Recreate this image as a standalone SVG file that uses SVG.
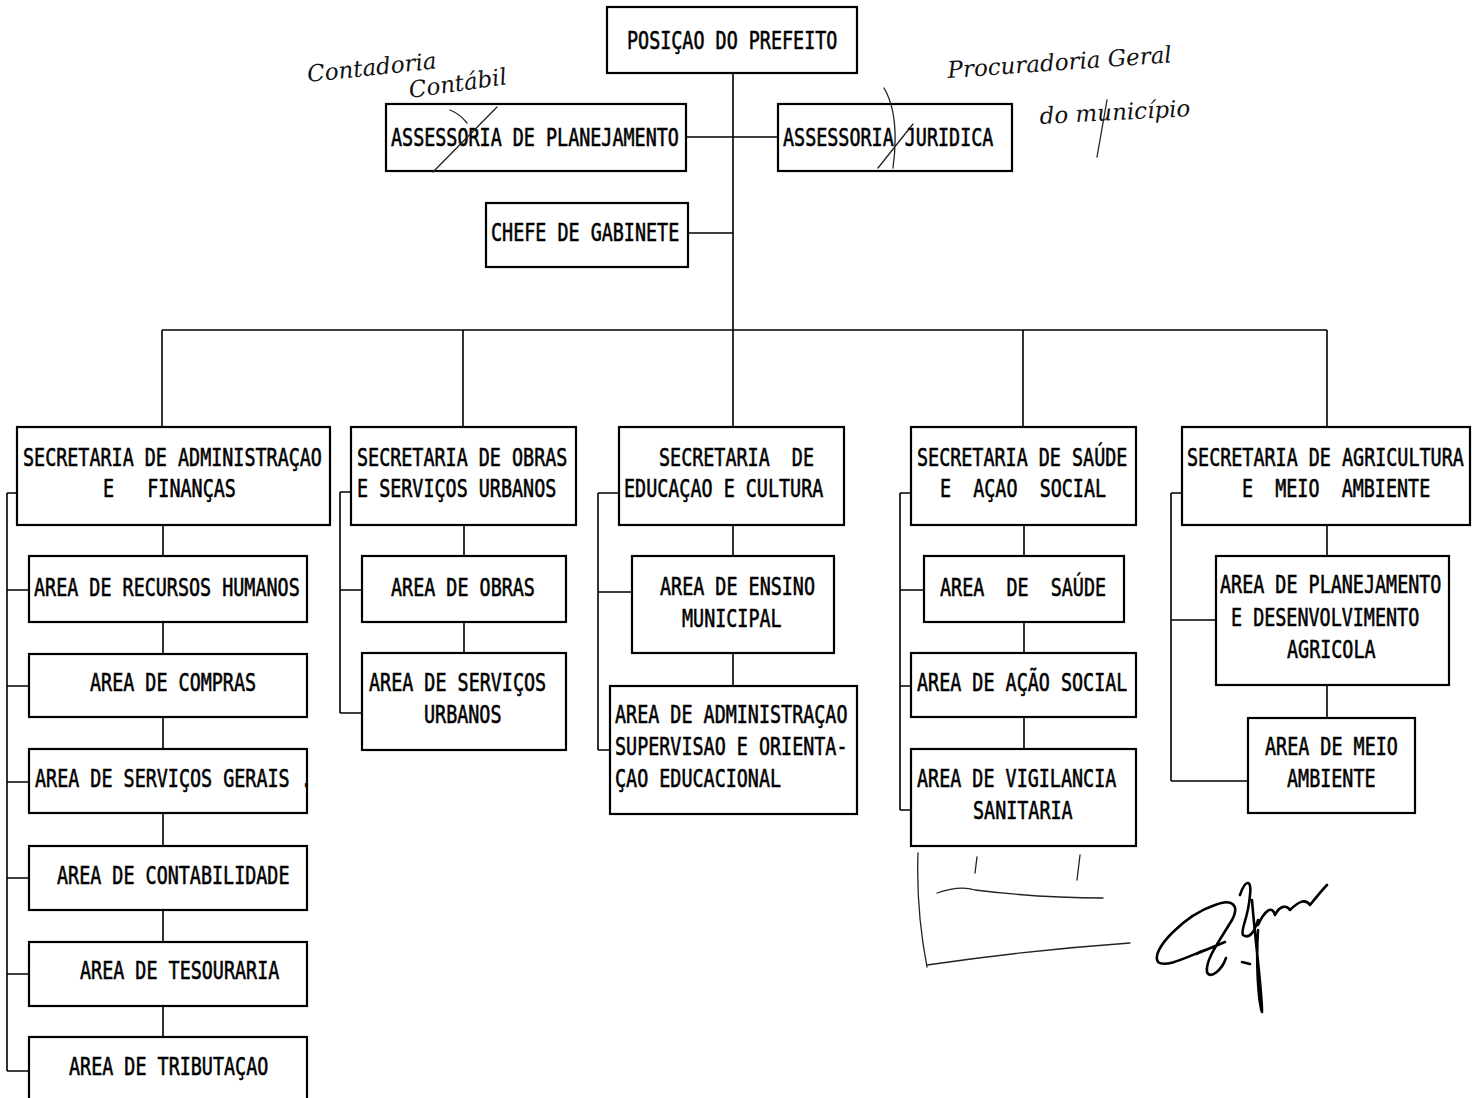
<svg xmlns="http://www.w3.org/2000/svg" width="1472" height="1098" viewBox="0 0 1472 1098">
<style>
.b{fill:#fff;stroke:#000;stroke-width:2.2}
.c{fill:none;stroke:#000;stroke-width:1.6}
.t{font-family:"DejaVu Sans Mono","Liberation Mono",monospace;font-size:18.4px;fill:#000;stroke:#000;stroke-width:0.45;white-space:pre}
.h{font-family:"DejaVu Serif","Liberation Serif",serif;font-style:italic;font-size:23px;fill:#111}
.p{fill:none;stroke:#222;stroke-width:1.3;stroke-linecap:round}
.s{fill:none;stroke:#000;stroke-width:2.6;stroke-linecap:round;stroke-linejoin:round}
</style>
<rect width="1472" height="1098" fill="#fff"/>
<g id="connectors">
<path class="c" d="M733 73V427M686 137H778M688 233H733M162 330H1327M162 330V427M463 330V427M1023 330V427M1327 330V427"/>
<path class="c" d="M163 525V556M163 622V654M163 717V749M163 813V846M163 910V942M163 1006V1037M7 493V1071M7 493H17M7 590H29M7 686H29M7 782H29M7 878H29M7 974H29M7 1071H29"/>
<path class="c" d="M464 525V556M464 622V653M340 492V713M340 492H351M340 590H362M340 713H362"/>
<path class="c" d="M733 525V556M733 653V686M598 493V750M598 493H619M598 592H632M598 750H610"/>
<path class="c" d="M1024 525V556M1024 622V653M1024 717V749M900 493V810M900 493H911M900 590H924M900 686H911M900 810H911"/>
<path class="c" d="M1327 525V556M1327 685V718M1171 493V781M1171 493H1182M1171 620H1216M1171 781H1248"/>
</g>
<g id="prefeito"><rect class="b" x="607" y="7" width="250" height="66"/><text class="t" transform="translate(627,49) scale(1,1.3)">POSIÇAO DO PREFEITO</text></g>
<g id="ass-planejamento"><rect class="b" x="386" y="104" width="300" height="67"/><text class="t" transform="translate(391,146) scale(1,1.3)">ASSESSORIA DE PLANEJAMENTO</text></g>
<g id="ass-juridica"><rect class="b" x="778" y="104" width="234" height="67"/><text class="t" transform="translate(783,146) scale(1,1.3)">ASSESSORIA JURIDICA</text></g>
<g id="chefe-gabinete"><rect class="b" x="486" y="203" width="202" height="64"/><text class="t" transform="translate(491,241) scale(1,1.3)">CHEFE DE GABINETE</text></g>
<g id="sec-adm"><rect class="b" x="17" y="427" width="313" height="98"/><text class="t" transform="translate(23,466) scale(1,1.3)">SECRETARIA DE ADMINISTRAÇAO</text><text class="t" transform="translate(103,497) scale(1,1.3)">E   FINANÇAS</text></g>
<g id="area-rh"><rect class="b" x="29" y="556" width="278" height="66"/><text class="t" transform="translate(34,596) scale(1,1.3)">AREA DE RECURSOS HUMANOS</text></g>
<g id="area-compras"><rect class="b" x="29" y="654" width="278" height="63"/><text class="t" transform="translate(90,691) scale(1,1.3)">AREA DE COMPRAS</text></g>
<g id="area-servicos-gerais"><rect class="b" x="29" y="749" width="278" height="64"/><text class="t" transform="translate(35,787) scale(1,1.3)">AREA DE SERVIÇOS GERAIS .</text></g>
<g id="area-contabilidade"><rect class="b" x="29" y="846" width="278" height="64"/><text class="t" transform="translate(57,884) scale(1,1.3)">AREA DE CONTABILIDADE</text></g>
<g id="area-tesouraria"><rect class="b" x="29" y="942" width="278" height="64"/><text class="t" transform="translate(80,979) scale(1,1.3)">AREA DE TESOURARIA</text></g>
<g id="area-tributacao"><rect class="b" x="29" y="1037" width="278" height="80"/><text class="t" transform="translate(69,1075) scale(1,1.3)">AREA DE TRIBUTAÇAO</text></g>
<g id="sec-obras"><rect class="b" x="351" y="427" width="225" height="98"/><text class="t" transform="translate(357,466) scale(1,1.3)">SECRETARIA DE OBRAS</text><text class="t" transform="translate(357,497) scale(1,1.3)">E SERVIÇOS URBANOS</text></g>
<g id="area-obras"><rect class="b" x="362" y="556" width="204" height="66"/><text class="t" transform="translate(391,596) scale(1,1.3)">AREA DE OBRAS</text></g>
<g id="area-servicos-urbanos"><rect class="b" x="362" y="653" width="204" height="97"/><text class="t" transform="translate(369,691) scale(1,1.3)">AREA DE SERVIÇOS</text><text class="t" transform="translate(424,723) scale(1,1.3)">URBANOS</text></g>
<g id="sec-educacao"><rect class="b" x="619" y="427" width="225" height="98"/><text class="t" transform="translate(659,466) scale(1,1.3)">SECRETARIA  DE</text><text class="t" transform="translate(624,497) scale(1,1.3)">EDUCAÇAO E CULTURA</text></g>
<g id="area-ensino"><rect class="b" x="632" y="556" width="202" height="97"/><text class="t" transform="translate(660,595) scale(1,1.3)">AREA DE ENSINO</text><text class="t" transform="translate(682,627) scale(1,1.3)">MUNICIPAL</text></g>
<g id="area-adm-educ"><rect class="b" x="610" y="686" width="247" height="128"/><text class="t" transform="translate(615,723) scale(1,1.3)">AREA DE ADMINISTRAÇAO</text><text class="t" transform="translate(615,755) scale(1,1.3)">SUPERVISAO E ORIENTA-</text><text class="t" transform="translate(615,787) scale(1,1.3)">ÇAO EDUCACIONAL</text></g>
<g id="sec-saude"><rect class="b" x="911" y="427" width="225" height="98"/><text class="t" transform="translate(917,466) scale(1,1.3)">SECRETARIA DE SAÚDE</text><text class="t" transform="translate(940,497) scale(1,1.3)">E  AÇAO  SOCIAL</text></g>
<g id="area-saude"><rect class="b" x="924" y="556" width="200" height="66"/><text class="t" transform="translate(940,596) scale(1,1.3)">AREA  DE  SAÚDE</text></g>
<g id="area-acao-social"><rect class="b" x="911" y="653" width="225" height="64"/><text class="t" transform="translate(917,691) scale(1,1.3)">AREA DE AÇÃO SOCIAL</text></g>
<g id="area-vigilancia"><rect class="b" x="911" y="749" width="225" height="97"/><text class="t" transform="translate(917,787) scale(1,1.3)">AREA DE VIGILANCIA</text><text class="t" transform="translate(973,819) scale(1,1.3)">SANITARIA</text></g>
<g id="sec-agricultura"><rect class="b" x="1182" y="427" width="288" height="98"/><text class="t" transform="translate(1187,466) scale(1,1.3)">SECRETARIA DE AGRICULTURA</text><text class="t" transform="translate(1242,497) scale(1,1.3)">E  MEIO  AMBIENTE</text></g>
<g id="area-planejamento-agricola"><rect class="b" x="1216" y="556" width="233" height="129"/><text class="t" transform="translate(1220,593) scale(1,1.3)">AREA DE PLANEJAMENTO</text><text class="t" transform="translate(1231,626) scale(1,1.3)">E DESENVOLVIMENTO</text><text class="t" transform="translate(1287,658) scale(1,1.3)">AGRICOLA</text></g>
<g id="area-meio-ambiente"><rect class="b" x="1248" y="718" width="167" height="95"/><text class="t" transform="translate(1265,755) scale(1,1.3)">AREA DE MEIO</text><text class="t" transform="translate(1287,787) scale(1,1.3)">AMBIENTE</text></g>
<g id="annotations">
<text class="h" x="308" y="82" transform="rotate(-6 308 82)">Contadoria</text>
<text class="h" x="410" y="98" transform="rotate(-8 410 98)">Contábil</text>
<text class="h" x="948" y="78" transform="rotate(-4 948 78)">Procuradoria Geral</text>
<text class="h" x="1040" y="124" transform="rotate(-3 1040 124)">do município</text>
<path class="p" d="M497 107L433 172M450 110Q460 114 467 123M913 124L878 168M884 88Q900 115 893 168M1107 100L1097 157"/>
<path class="p" d="M918 853Q916 910 927 967M927 965Q1030 950 1130 943M937 893Q960 885 975 890Q1040 898 1103 898M977 857L975 873M1080 855L1077 880"/>
<path class="s" d="M1205 950C1185 958 1165 968 1158 962C1150 950 1185 915 1215 905C1232 898 1240 905 1232 920C1220 940 1205 960 1207 972C1210 980 1222 970 1226 958M1196 954L1225 942"/>
<path class="s" d="M1240 895C1245 880 1252 878 1250 895C1248 920 1240 930 1243 935C1250 940 1255 930 1258 920M1252 900C1255 940 1262 990 1262 1012C1258 1000 1256 960 1258 930M1258 925C1265 910 1272 905 1275 915C1280 905 1287 905 1290 910C1298 902 1305 898 1310 905C1318 895 1322 890 1327 885M1242 962L1250 964"/>
</g>
</svg>
